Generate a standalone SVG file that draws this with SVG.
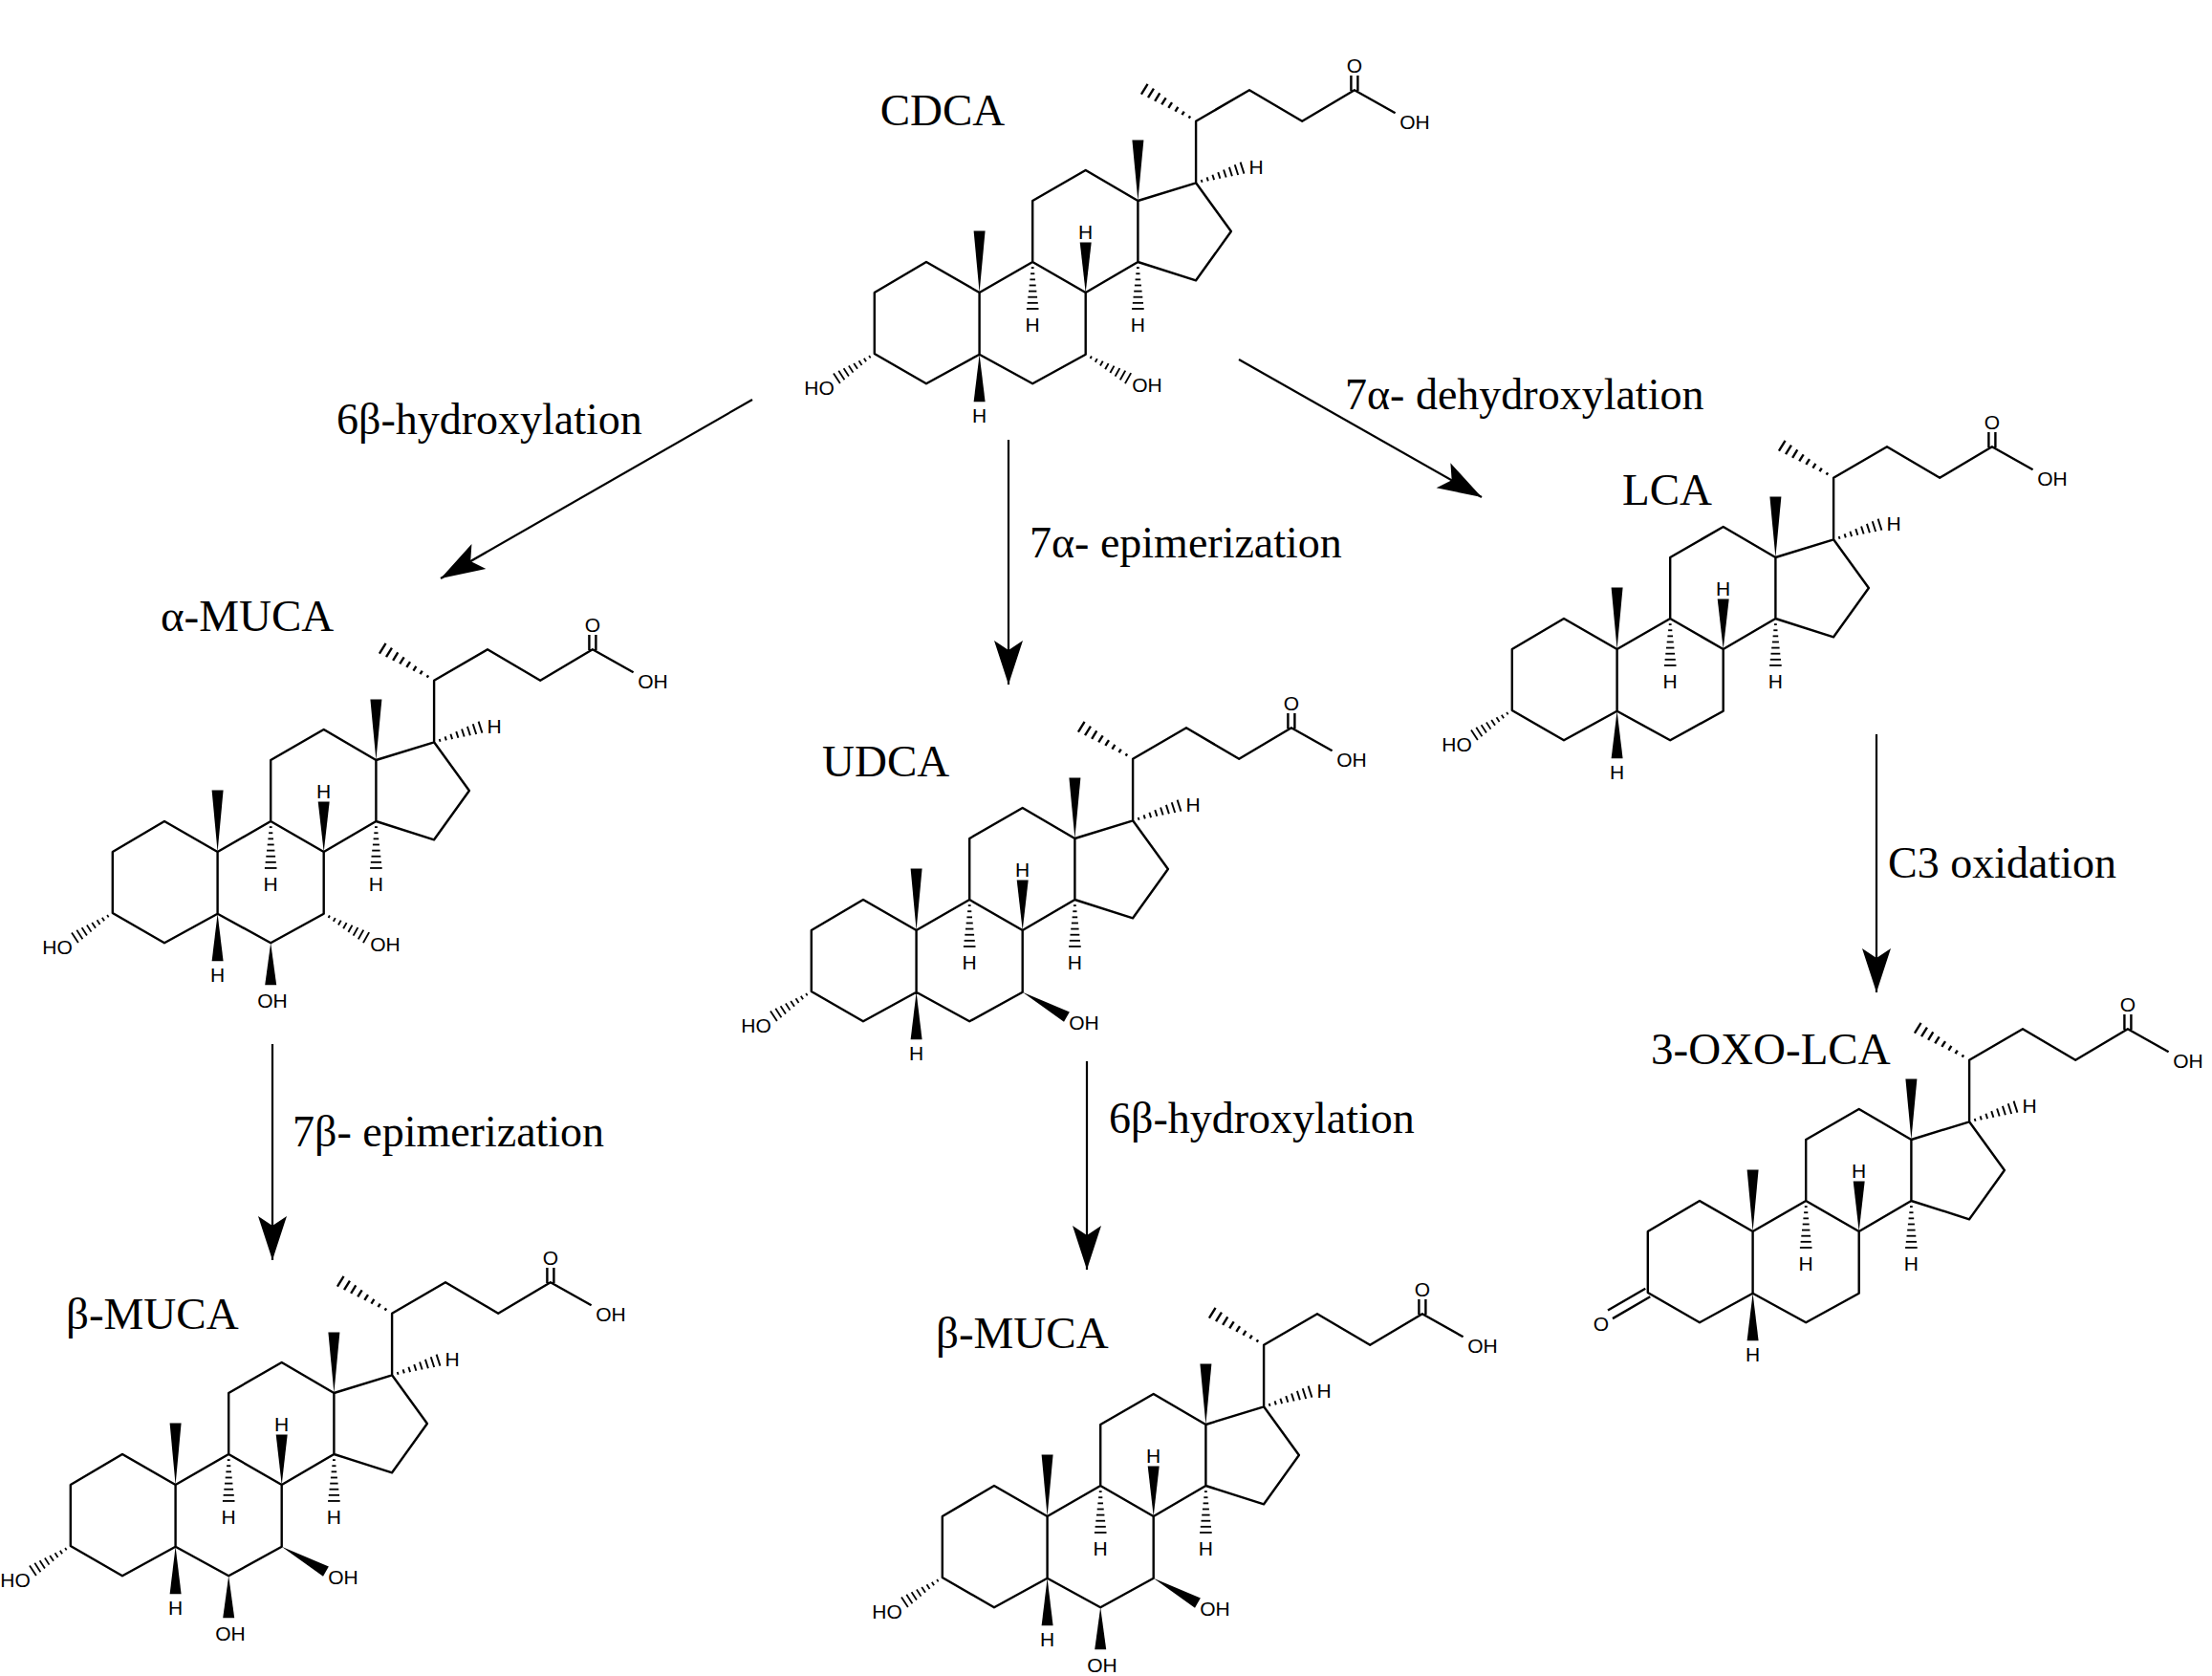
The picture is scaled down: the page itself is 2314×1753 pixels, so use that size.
<svg xmlns="http://www.w3.org/2000/svg" xmlns:xlink="http://www.w3.org/1999/xlink" width="2314" height="1753" viewBox="0 0 2314 1753">
<style>
.b{fill:none;stroke:#000;stroke-width:2.4;stroke-linejoin:round}
.a{font-family:"Liberation Sans",Arial,sans-serif;font-size:21px;fill:#000}
.m{text-anchor:middle;dominant-baseline:central}
.l{font-family:"Liberation Serif","Times New Roman",serif;font-size:47px;fill:#000}
.t{font-family:"Liberation Serif","Times New Roman",serif;font-size:46px;fill:#000}
.c{stroke:#000;stroke-width:2.2;fill:none}
</style>
<defs>
<marker id="ah" markerUnits="userSpaceOnUse" orient="auto" markerWidth="60" markerHeight="40" refX="0" refY="0" viewBox="-50 -20 60 40" overflow="visible">
<path d="M0,0 L-46,-15 L-36,0 L-46,15 Z" fill="#000"/>
</marker>
<g id="hash" stroke="#000" stroke-width="1.8">
<line x1="6" y1="-1.4" x2="6" y2="1.4"/><line x1="12" y1="-2.1" x2="12" y2="2.1"/><line x1="18" y1="-2.8" x2="18" y2="2.8"/><line x1="24" y1="-3.5" x2="24" y2="3.5"/><line x1="30" y1="-4.2" x2="30" y2="4.2"/><line x1="36" y1="-4.9" x2="36" y2="4.9"/><line x1="42" y1="-5.6" x2="42" y2="5.6"/><line x1="48" y1="-6.3" x2="48" y2="6.3"/>
</g>
<polygon id="wedge" points="0,0 50,-6 50,6" fill="#000"/>
<g id="core">
<path class="b" d="M914.8,306 L969,274 L1024.6,306 L1024.6,370.7 L969,401.3 L914.8,370 Z M1024.6,306 L1080.2,274 L1135.7,306 L1135.7,370.7 L1080.2,401.3 L1024.6,370.7 M1080.2,274 L1080.2,210 L1135.7,178 L1190.4,210 L1190.4,274 L1135.7,306 M1190.4,210 L1251.1,191.3 L1287.9,242 L1251.1,293.3 L1190.4,274 M1251.1,191.3 L1251.1,126.7 L1307,94.3 L1362.2,126.7 L1416.9,94.3 L1459.6,118.3 M1413.4,95 V79 M1420.4,95 V79"/>
<use xlink:href="#hash" transform="translate(1251.1,126.7) rotate(211.8) scale(1.32,1)"/>
<use xlink:href="#wedge" transform="translate(1190.4,210) rotate(-90) scale(1.27,1)"/>
<use xlink:href="#wedge" transform="translate(1024.6,306) rotate(-90) scale(1.29,1)"/>
<use xlink:href="#wedge" transform="translate(1135.7,306) rotate(-90) scale(1.05,1)"/>
<use xlink:href="#wedge" transform="translate(1024.6,370.7) rotate(90) scale(0.99,1)"/>
<use xlink:href="#hash" transform="translate(1080.2,274) rotate(90) scale(1.02,1)"/>
<use xlink:href="#hash" transform="translate(1190.4,274) rotate(90) scale(1.02,1)"/>
<use xlink:href="#hash" transform="translate(1251.1,191.3) rotate(-17.9) scale(1.06,1)"/>
<text class="a m" x="1417" y="68">O</text>
<text class="a m" x="1480" y="127">OH</text>
<text class="a m" x="1135.7" y="242">H</text>
<text class="a m" x="1080.2" y="339">H</text>
<text class="a m" x="1190.4" y="339">H</text>
<text class="a m" x="1314" y="174">H</text>
<text class="a m" x="1024.6" y="434">H</text>
</g>
<g id="oh3">
<use xlink:href="#hash" transform="translate(914.8,370) rotate(146.8) scale(0.98,1)"/>
<text class="a m" x="857" y="405">HO</text>
</g>
<g id="oh7a">
<use xlink:href="#hash" transform="translate(1135.7,370.7) rotate(29.3) scale(1.06,1)"/>
<text class="a m" x="1200" y="402">OH</text>
</g>
<g id="oh7b">
<use xlink:href="#wedge" transform="translate(1135.7,370.7) rotate(29.3) scale(1.06,1)"/>
<text class="a m" x="1200" y="402">OH</text>
</g>
<g id="oh6b">
<use xlink:href="#wedge" transform="translate(1080.2,401.3) rotate(90) scale(0.88,1)"/>
<text class="a m" x="1082" y="461">OH</text>
</g>
</defs>
<rect width="2314" height="1753" fill="#fff"/>

<g id="cdca">
<use xlink:href="#core"/><use xlink:href="#oh3"/><use xlink:href="#oh7a"/>
<text class="l" x="986" y="131" text-anchor="middle">CDCA</text>
</g>
<g id="amuca" transform="translate(-797,585)">
<use xlink:href="#core"/><use xlink:href="#oh3"/><use xlink:href="#oh7a"/><use xlink:href="#oh6b"/>
</g>
<text class="l" x="168" y="660">α-MUCA</text>
<g id="udca" transform="translate(-66,667)">
<use xlink:href="#core"/><use xlink:href="#oh3"/><use xlink:href="#oh7b"/>
</g>
<text class="l" x="860" y="812">UDCA</text>
<g id="lca" transform="translate(667,373)">
<use xlink:href="#core"/><use xlink:href="#oh3"/>
</g>
<text class="l" x="1697" y="528">LCA</text>
<g id="bmuca1" transform="translate(-841,1247)">
<use xlink:href="#core"/><use xlink:href="#oh3"/><use xlink:href="#oh7b"/><use xlink:href="#oh6b"/>
</g>
<text class="l" x="69" y="1390">β-MUCA</text>
<g id="bmuca2" transform="translate(71,1280)">
<use xlink:href="#core"/><use xlink:href="#oh3"/><use xlink:href="#oh7b"/><use xlink:href="#oh6b"/>
</g>
<text class="l" x="979" y="1410">β-MUCA</text>
<g id="oxolca" transform="translate(809,982)">
<use xlink:href="#core"/>
<path class="b" d="M912.3,365.7 L873,388.5 M917.3,374.3 L878,397.1"/>
<text class="a m" x="866" y="402">O</text>
</g>
<text class="l" x="1727" y="1113">3-OXO-LCA</text>

<g id="connectors">
<line class="c" x1="787" y1="418" x2="461" y2="605" marker-end="url(#ah)"/>
<line class="c" x1="1055" y1="460" x2="1055" y2="716" marker-end="url(#ah)"/>
<line class="c" x1="1296" y1="376" x2="1550" y2="520" marker-end="url(#ah)"/>
<line class="c" x1="285" y1="1092" x2="285" y2="1318" marker-end="url(#ah)"/>
<line class="c" x1="1137" y1="1110" x2="1137" y2="1328" marker-end="url(#ah)"/>
<line class="c" x1="1963" y1="768" x2="1963" y2="1038" marker-end="url(#ah)"/>
<text class="t" x="352" y="454">6β-hydroxylation</text>
<text class="t" x="1077" y="583">7α- epimerization</text>
<text class="t" x="1407" y="428">7α- dehydroxylation</text>
<text class="t" x="306" y="1199">7β- epimerization</text>
<text class="t" x="1160" y="1185">6β-hydroxylation</text>
<text class="t" x="1975" y="918">C3 oxidation</text>
</g>
</svg>
